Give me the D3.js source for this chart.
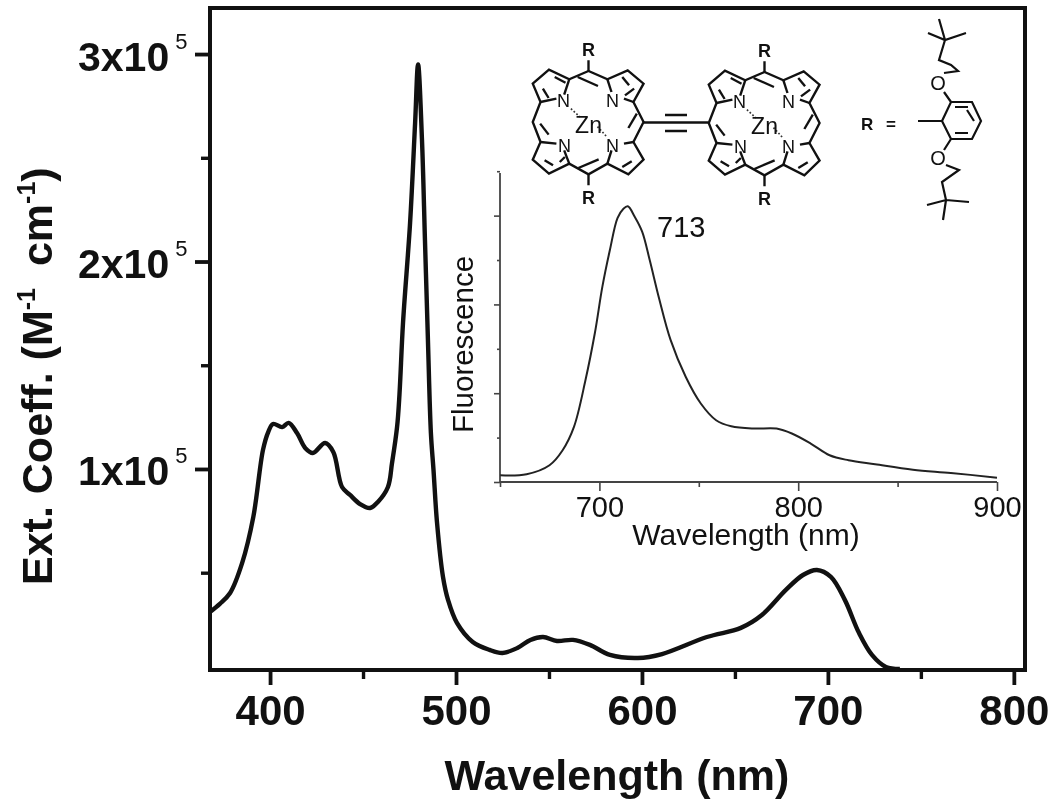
<!DOCTYPE html>
<html>
<head>
<meta charset="utf-8">
<script src="https://cdnjs.cloudflare.com/ajax/libs/d3/7.8.5/d3.min.js"></script>
<style>
html,body{margin:0;padding:0;background:#fff}
svg{display:block;filter:blur(0.6px)}
text{font-family:"Liberation Sans",Arial,sans-serif;fill:#111}
</style>
</head>
<body>
<svg id="c" width="1050" height="805"></svg>
<script>
// Main panel: absorption spectrum (wavelength in nm, extinction in units of 1e5)
const absWavelength = [367.7,373,378.5,385,391,396.2,399,401.6,406.5,410,414.5,419,423,429.6,434,438.7,443,448.4,453.8,458,463.4,465.6,468.3,469.6,471.5,475.3,478,479.6,481.7,483.3,484.9,486.5,487.9,489.8,493,495.7,500.5,509,518,525,533,540,546.8,554.3,562.9,572,582.8,597.8,610.8,634.9,653.2,664.5,677.4,686.6,694.1,701.6,709.1,716.7,723.7,731.2,738.7];
const absCoeff = [0.311,0.35,0.402,0.547,0.769,1.092,1.178,1.217,1.202,1.222,1.173,1.10,1.077,1.125,1.082,0.913,0.875,0.831,0.812,0.841,0.913,1.029,1.202,1.36,1.704,2.186,2.667,2.95,2.586,2.104,1.622,1.173,0.995,0.74,0.48,0.369,0.258,0.166,0.128,0.113,0.137,0.176,0.19,0.171,0.176,0.152,0.104,0.089,0.108,0.19,0.234,0.296,0.417,0.489,0.513,0.48,0.369,0.21,0.104,0.046,0.036];
const mainXTicks = [400,500,600,700,800];
const mainXMinor = [450,550,650,750];
const mainYTicks = [1,2,3];
const mainYMinor = [0.5,1.5,2.5];

// Inset: fluorescence spectrum
const fluoWavelength = [650.1,663.4,674.9,681.5,687.2,693,697.7,701.5,705.3,709.1,712,714.3,717.7,721.5,725.3,730,735.8,743.4,751,758.7,766.3,777.7,789.1,796.8,806.3,815.8,825.3,838.7,857.7,876.8,900];
const fluoValue = [0.075,0.087,0.188,0.357,0.62,1.148,1.675,2.2,2.615,2.973,3.075,3.105,2.99,2.82,2.5,2.07,1.6,1.185,0.884,0.696,0.628,0.602,0.602,0.546,0.433,0.301,0.245,0.2,0.139,0.102,0.049];
const insetXTicks = [700,800,900];
const insetXMinor = [650,750,850];
const insetYTicks = [0,1,2,3];
const insetYMinor = [0.5,1.5,2.5,3.5];

const svg = d3.select("#c");
const x = d3.scaleLinear().domain([367.7,806]).range([210,1025]);
const y = d3.scaleLinear().domain([0.031,3.222]).range([670,8]);
const line = d3.line().curve(d3.curveCatmullRom.alpha(0.5));

function axisStyle(g,w,col){ g.select(".domain").remove(); g.selectAll("line").attr("stroke",col).attr("stroke-width",w); }

// main minor and major ticks
svg.append("g").attr("transform","translate(0,670)").call(d3.axisBottom(x).tickValues(mainXMinor).tickSize(9).tickFormat("")).call(axisStyle,3.4,"#111");
const gx = svg.append("g").attr("transform","translate(0,670)").call(d3.axisBottom(x).tickValues(mainXTicks).tickSize(15).tickFormat(d3.format("d"))).call(axisStyle,3.8,"#111");
gx.selectAll("text").attr("y",0).attr("dy",null).attr("transform","translate(0,54.5)").style("font-size","42px").style("font-weight","bold").attr("text-anchor","middle").attr("fill","#111");

svg.append("g").attr("transform","translate(210,0)").call(d3.axisLeft(y).tickValues(mainYMinor).tickSize(9).tickFormat("")).call(axisStyle,3.4,"#111");
const gy = svg.append("g").attr("transform","translate(210,0)").call(d3.axisLeft(y).tickValues(mainYTicks).tickSize(15).tickFormat(d=>d+"x10")).call(axisStyle,3.8,"#111");
gy.selectAll("text").attr("x",-132).attr("dy",null).attr("y",16).attr("text-anchor","start").style("font-size","41px").style("font-weight","bold").attr("fill","#111")
  .append("tspan").attr("dx",6).attr("dy",-22).style("font-size","22px").style("font-weight","normal").text("5");

// frame
svg.append("rect").attr("x",x.range()[0]).attr("y",y.range()[1]).attr("width",x.range()[1]-x.range()[0]).attr("height",y.range()[0]-y.range()[1])
  .attr("fill","none").attr("stroke","#111").attr("stroke-width",4);

// main curve
svg.append("path").attr("d",line(absWavelength.map((w,i)=>[x(w),y(absCoeff[i])]))).attr("fill","none").attr("stroke","#111").attr("stroke-width",4.4).attr("stroke-linejoin","round");

// main titles
svg.append("text").attr("x",617).attr("y",790).attr("text-anchor","middle").style("font-size","43px").style("font-weight","bold").text("Wavelength (nm)");
const yl = svg.append("text").attr("transform","translate(52,585) rotate(-90)").style("font-size","43px").style("font-weight","bold");
yl.append("tspan").text("Ext. Coeff. (M");
yl.append("tspan").attr("dy",-17).style("font-size","25px").text("-1");
yl.append("tspan").attr("dy",17).attr("dx",10).text(" cm");
yl.append("tspan").attr("dy",-17).style("font-size","25px").text("-1");
yl.append("tspan").attr("dy",17).text(")");

// inset
const ix = d3.scaleLinear().domain([650,900]).range([500,997]);
const iy = d3.scaleLinear().domain([0,3.48]).range([482,173]);
const ic = "#444";
svg.append("g").attr("transform","translate(0,482)").call(d3.axisBottom(ix).tickValues(insetXMinor).tickSize(5).tickFormat("")).call(axisStyle,1.6,ic);
const igx = svg.append("g").attr("transform","translate(0,482)").call(d3.axisBottom(ix).tickValues(insetXTicks).tickSize(9).tickFormat(d3.format("d"))).call(axisStyle,1.6,ic);
igx.selectAll("text").attr("y",0).attr("dy",null).attr("transform","translate(0,34.5)").style("font-size","29px").attr("fill","#111");
svg.append("g").attr("transform","translate(500,0)").call(d3.axisLeft(iy).tickValues(insetYMinor).tickSize(3).tickFormat("")).call(axisStyle,1.6,ic);
svg.append("g").attr("transform","translate(500,0)").call(d3.axisLeft(iy).tickValues(insetYTicks).tickSize(6).tickFormat("")).call(axisStyle,1.6,ic);
svg.append("line").attr("x1",ix(650)).attr("x2",ix(900)).attr("y1",482).attr("y2",482).attr("stroke",ic).attr("stroke-width",1.8);
svg.append("line").attr("x1",500).attr("x2",500).attr("y1",iy(0)).attr("y2",iy(3.48)).attr("stroke",ic).attr("stroke-width",1.8);
svg.append("path").attr("d",line(fluoWavelength.map((w,i)=>[ix(w),iy(fluoValue[i])]))).attr("fill","none").attr("stroke","#222").attr("stroke-width",2);
svg.append("text").attr("x",657).attr("y",237).style("font-size","29px").text("713");
svg.append("text").attr("x",746).attr("y",545).attr("text-anchor","middle").style("font-size","30px").text("Wavelength (nm)");
svg.append("text").attr("transform","translate(473,433) rotate(-90)").style("font-size","29.5px").text("Fluorescence");

// Molecule drawing (decorative structure, in local structure units)
const ringOuter = [[0,-153],[-57,-128],[-117,-157],[-165,-115],[-142,-60],[-165,0],[-142,60],[-165,113],[-117,155],[-57,125],[0,157],[56,125],[118,157],[163,113],[133,60],[163,0],[133,-60],[163,-115],[116,-155],[56,-128]];
const ringBonds = [
 [[-57,-128],[-72,-82]],[[-142,-60],[-95,-70]],
 [[56,-128],[68,-90]],[[133,-60],[105,-70]],
 [[-57,125],[-72,85]],[[-142,60],[-95,65]],
 [[56,125],[68,85]],[[133,60],[105,65]],
 [[-32,-135],[28,-108]],[[-30,138],[30,112]],
 [[-143,5],[-118,38]],[[143,-25],[118,18]],
 [[-135,-100],[-118,-72]],[[-100,-135],[-68,-118]],
 [[135,-100],[108,-80]],[[100,-135],[120,-110]],
 [[-130,115],[-105,130]],[[-70,105],[-85,120]],
 [[128,118],[100,135]]
];
const ringDashes = [[[-52,-40],[-25,-15]],[[52,42],[25,12]]];
function porphyrin(cx,cy){
  const sx=1/2.96, sy=1/3;
  const g = svg.append("g").attr("transform",`translate(${cx},${cy}) scale(${sx},${sy})`);
  g.append("path").attr("d","M"+ringOuter.join("L")+"Z").attr("fill","none").attr("stroke","#111").attr("stroke-width",7);
  ringBonds.forEach(b=>g.append("path").attr("d","M"+b.join("L")).attr("fill","none").attr("stroke","#111").attr("stroke-width",7));
  ringDashes.forEach(b=>g.append("path").attr("d","M"+b.join("L")).attr("fill","none").attr("stroke","#333").attr("stroke-width",5).attr("stroke-dasharray","5 6"));
  g.append("path").attr("d","M0,-153L0,-185M0,157L0,190").attr("fill","none").attr("stroke","#111").attr("stroke-width",7);
  const lab=(t,dx,dy,s,b)=>svg.append("text").attr("x",cx+dx).attr("y",cy+dy).attr("text-anchor","middle").style("font-size",s+"px").style("font-weight",b?"bold":"normal").text(t);
  lab("N",-25,-15,18);lab("N",24,-15,18);lab("N",-24,30,18);lab("N",24,30,18);
  lab("Zn",0,11,23);
  lab("R",0,-66,18,true);lab("R",0,82,18,true);
}
porphyrin(588.5,122);
porphyrin(764.5,123);

// triple bond
const tb = svg.append("g").attr("stroke","#111").attr("fill","none");
tb.append("path").attr("d","M643,122.5H708").attr("stroke-width",2.6);
tb.append("path").attr("d","M665,115H687M665,131H687").attr("stroke-width",2.6);

// R group
const rPaths = [
 "M918,121H942","M942,121L951,102L972,102L981,121L972,139L951,139Z",
 "M955,107L968,107M955,133L968,133M974,121L967,110",
 "M951,102L944,92M944,73L958,71L951,65L939,60L945,40M928,33L945,40L966,33M939,19L945,40",
 "M951,139L944,150M946,165L959,170L942,182L946,200M927,205L946,200L969,202M943,220L946,200"
];
svg.append("path").attr("d",rPaths.join("")).attr("fill","none").attr("stroke","#111").attr("stroke-width",2.2);
svg.append("text").attr("x",938).attr("y",90).attr("text-anchor","middle").style("font-size","20px").text("O");
svg.append("text").attr("x",938).attr("y",165).attr("text-anchor","middle").style("font-size","20px").text("O");
svg.append("text").attr("x",861).attr("y",130).style("font-size","17px").style("font-weight","bold").text("R");
svg.append("text").attr("x",886).attr("y",130).style("font-size","17px").style("font-weight","bold").text("=");
</script>
</body>
</html>
